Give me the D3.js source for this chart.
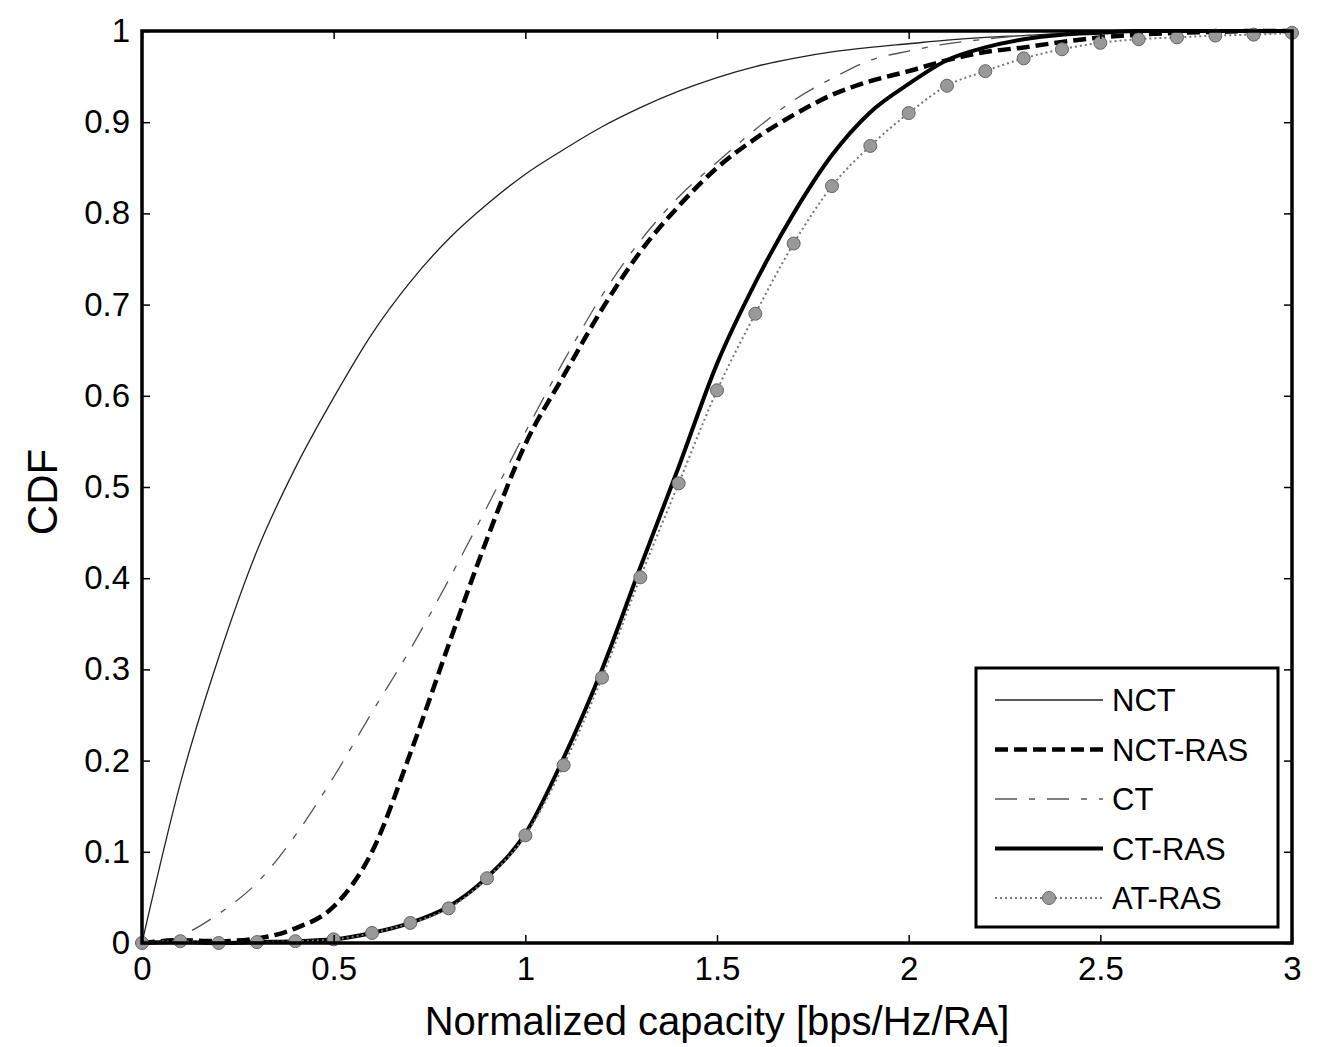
<!DOCTYPE html>
<html>
<head>
<meta charset="utf-8">
<script src="https://cdn.jsdelivr.net/npm/d3@7"></script>
<style>
  body { margin: 0; background: #fff; }
  text { font-family: "Liberation Sans", Arial, sans-serif; fill: #000; }
</style>
</head>
<body>
<svg id="chart" width="1336" height="1047"></svg>
<script>
// capacity samples (x) shared by all curves
var capacity = [0, 0.1, 0.2, 0.3, 0.4, 0.5, 0.6, 0.7, 0.8, 0.9, 1.0,
                1.1, 1.2, 1.3, 1.4, 1.5, 1.6, 1.7, 1.8, 1.9, 2.0,
                2.1, 2.2, 2.3, 2.4, 2.5, 2.6, 2.7, 2.8, 2.9, 3.0];

var nct    = [0, 0.175, 0.313, 0.43, 0.521, 0.598, 0.668, 0.725, 0.772, 0.81, 0.843,
              0.87, 0.895, 0.916, 0.934, 0.949, 0.961, 0.97, 0.977, 0.982, 0.986,
              0.99, 0.993, 0.995, 0.997, 0.998, 0.999, 1, 1, 1, 1];
var nctRas = [0, 0.003, 0.002, 0.005, 0.016, 0.04, 0.1, 0.208, 0.327, 0.443, 0.547,
              0.622, 0.695, 0.758, 0.808, 0.85, 0.882, 0.908, 0.93, 0.945, 0.956,
              0.968, 0.977, 0.982, 0.988, 0.993, 0.996, 0.998, 0.999, 1, 1];
var ct     = [0, 0.008, 0.032, 0.066, 0.118, 0.182, 0.253, 0.322, 0.398, 0.478, 0.56,
              0.638, 0.71, 0.77, 0.818, 0.856, 0.892, 0.924, 0.948, 0.968, 0.978,
              0.986, 0.991, 0.995, 0.997, 0.999, 1, 1, 1, 1, 1];
var ctRas  = [0, 0.001, 0, 0.001, 0.002, 0.004, 0.011, 0.022, 0.04, 0.072, 0.12,
              0.203, 0.3, 0.412, 0.522, 0.635, 0.724, 0.8, 0.864, 0.911, 0.942,
              0.968, 0.982, 0.991, 0.996, 0.998, 1, 1, 1, 1, 1];
var atRas  = [0, 0.002, 0, 0.001, 0.002, 0.004, 0.011, 0.022, 0.038, 0.071, 0.118,
              0.195, 0.291, 0.401, 0.504, 0.606, 0.69, 0.767, 0.83, 0.874, 0.91,
              0.94, 0.956, 0.97, 0.98, 0.987, 0.991, 0.993, 0.995, 0.996, 0.998];

var xTicks = [0, 0.5, 1, 1.5, 2, 2.5, 3];
var yTicks = [0, 0.1, 0.2, 0.3, 0.4, 0.5, 0.6, 0.7, 0.8, 0.9, 1];

var seriesNames = ["NCT", "NCT-RAS", "CT", "CT-RAS", "AT-RAS"];

var svg = d3.select("#chart");

var pLeft = 142, pRight = 1292, pTop = 31, pBottom = 943;

var x = d3.scaleLinear().domain([0, 3]).range([pLeft, pRight]);
var y = d3.scaleLinear().domain([0, 1]).range([pBottom, pTop]);

// line styles, in legend order
var styles = {
  "NCT":     { data: nct,    stroke: "#222", width: 1.3, dash: null },
  "NCT-RAS": { data: nctRas, stroke: "#000", width: 4.5, dash: "13,6" },
  "CT":      { data: ct,     stroke: "#555", width: 1.3, dash: "22,12,6,12" },
  "CT-RAS":  { data: ctRas,  stroke: "#000", width: 4,   dash: null },
  "AT-RAS":  { data: atRas,  stroke: "#777", width: 2,   dash: "2,3" }
};

var line = d3.line()
  .x(function (d) { return x(d[0]); })
  .y(function (d) { return y(d[1]); })
  .curve(d3.curveMonotoneX);

var plot = svg.append("g");

seriesNames.forEach(function (name) {
  var s = styles[name];
  var pts = capacity.map(function (c, i) { return [c, s.data[i]]; });
  plot.append("path")
    .attr("d", line(pts))
    .attr("fill", "none")
    .attr("stroke", s.stroke)
    .attr("stroke-width", s.width)
    .attr("stroke-dasharray", s.dash)
    .attr("stroke-linejoin", "round");
});

// AT-RAS markers
plot.selectAll("circle.mk")
  .data(capacity.map(function (c, i) { return [c, atRas[i]]; }))
  .enter().append("circle")
  .attr("class", "mk")
  .attr("cx", function (d) { return x(d[0]); })
  .attr("cy", function (d) { return y(d[1]); })
  .attr("r", 6.5)
  .attr("fill", "#999")
  .attr("stroke", "#666")
  .attr("stroke-width", 1);

// axes: MATLAB style, ticks pointing in
var xAxis = d3.axisBottom(x).tickValues(xTicks).tickSize(-8).tickPadding(14)
  .tickFormat(d3.format("~g"));
var yAxis = d3.axisLeft(y).tickValues(yTicks).tickSize(-8).tickPadding(12)
  .tickFormat(d3.format("~g"));

var gx = svg.append("g").attr("transform", "translate(0," + pBottom + ")").call(xAxis);
var gy = svg.append("g").attr("transform", "translate(" + pLeft + ",0)").call(yAxis);

[gx, gy].forEach(function (g) {
  g.select(".domain").remove();
  g.selectAll(".tick line").attr("stroke", "#000").attr("stroke-width", 1.5);
  g.selectAll(".tick text")
    .attr("font-size", 33)
    .attr("font-family", "Liberation Sans, Arial, sans-serif")
    .attr("fill", "#000");
});
gx.selectAll(".tick text").attr("dy", "0.71em");

// ticks on top and right
svg.append("g").attr("transform", "translate(0," + pTop + ")")
  .call(d3.axisTop(x).tickValues(xTicks).tickSize(-8).tickFormat(""))
  .call(function (g) { g.select(".domain").remove(); g.selectAll("line").attr("stroke-width", 1.5); });
svg.append("g").attr("transform", "translate(" + pRight + ",0)")
  .call(d3.axisRight(y).tickValues(yTicks).tickSize(-8).tickFormat(""))
  .call(function (g) { g.select(".domain").remove(); g.selectAll("line").attr("stroke-width", 1.5); });

// frame
svg.append("rect")
  .attr("x", pLeft).attr("y", pTop)
  .attr("width", pRight - pLeft).attr("height", pBottom - pTop)
  .attr("fill", "none")
  .attr("stroke", "#000")
  .attr("stroke-width", 3.5);

// axis titles
svg.append("text")
  .attr("x", (pLeft + pRight) / 2)
  .attr("y", 1035)
  .attr("text-anchor", "middle")
  .attr("font-size", 40)
  .text("Normalized capacity [bps/Hz/RA]");

svg.append("text")
  .attr("transform", "translate(57,492) rotate(-90)")
  .attr("text-anchor", "middle")
  .attr("font-size", 42)
  .text("CDF");

// legend
var lg = svg.append("g");
lg.append("rect")
  .attr("x", 976).attr("y", 668)
  .attr("width", 302).attr("height", 259)
  .attr("fill", "#fff")
  .attr("stroke", "#000")
  .attr("stroke-width", 3);

seriesNames.forEach(function (name, i) {
  var s = styles[name];
  var cy = 700 + i * 49.5;
  lg.append("line")
    .attr("x1", 995).attr("x2", 1103)
    .attr("y1", cy).attr("y2", cy)
    .attr("stroke", s.stroke)
    .attr("stroke-width", s.width)
    .attr("stroke-dasharray", s.dash);
  if (name === "AT-RAS") {
    lg.append("circle")
      .attr("cx", 1049).attr("cy", cy).attr("r", 6.5)
      .attr("fill", "#999").attr("stroke", "#666").attr("stroke-width", 1);
  }
  lg.append("text")
    .attr("x", 1112)
    .attr("y", cy + 11)
    .attr("font-size", 31)
    .text(name);
});
</script>
</body>
</html>
